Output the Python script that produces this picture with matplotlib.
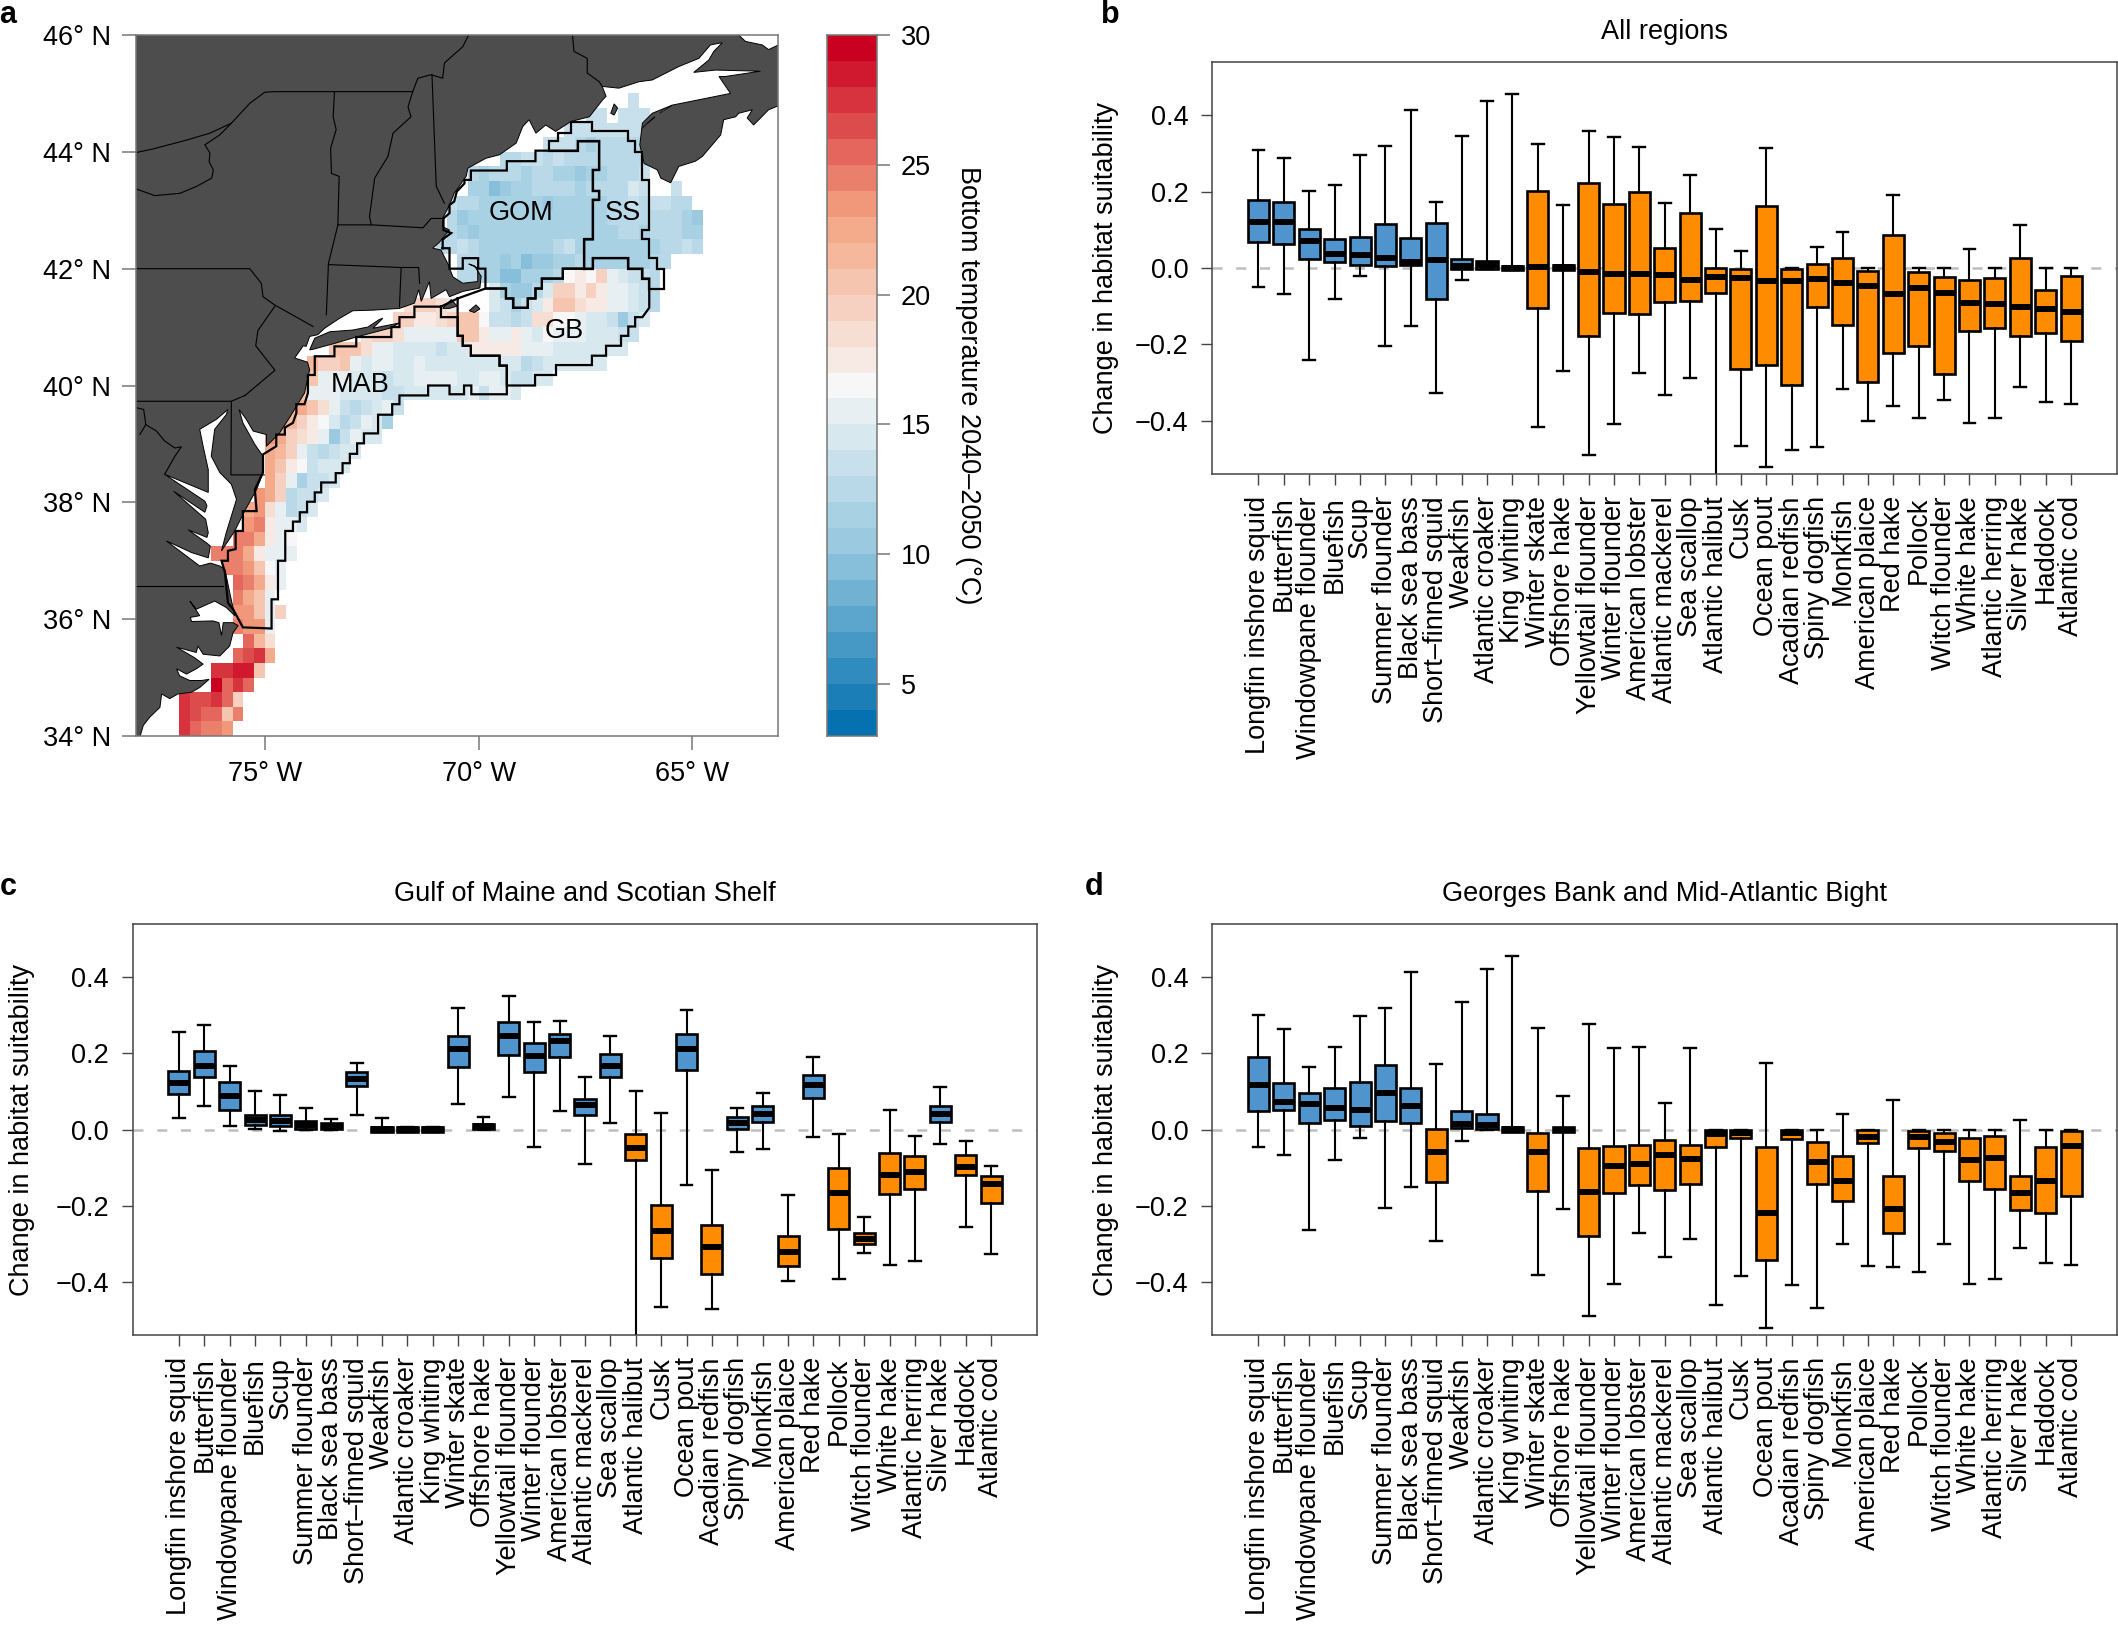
import numpy as np
import matplotlib
matplotlib.use("Agg")
import matplotlib.pyplot as plt
from matplotlib.colors import LinearSegmentedColormap, BoundaryNorm
from matplotlib.patches import Polygon

plt.rcParams['font.family'] = ['Liberation Sans', 'DejaVu Sans']
plt.rcParams['mathtext.default'] = 'regular'

W, H = 2118, 1625

species = ["Longfin inshore squid", "Butterfish", "Windowpane flounder", "Bluefish", "Scup",
           "Summer flounder", "Black sea bass", "Short–finned squid", "Weakfish", "Atlantic croaker",
           "King whiting", "Winter skate", "Offshore hake", "Yellowtail flounder", "Winter flounder",
           "American lobster", "Atlantic mackerel", "Sea scallop", "Atlantic halibut", "Cusk",
           "Ocean pout", "Acadian redfish", "Spiny dogfish", "Monkfish", "American plaice", "Red hake",
           "Pollock", "Witch flounder", "White hake", "Atlantic herring", "Silver hake", "Haddock",
           "Atlantic cod"]

# ---- panel b: All regions
b_hi = [.309,.289,.203,.217,.297,.319,.414,.174,.346,.439,.457,.325,.166,.360,.343,.318,.170,.245,.101,.044,.314,0,.056,.094,0,.191,0,0,.050,0,.112,0,0]
b_q3 = [.179,.174,.103,.075,.080,.115,.079,.118,.024,.018,.005,.201,.007,.222,.167,.199,.052,.145,0,-.002,.163,-.003,.010,.027,-.008,.087,-.010,-.023,-.032,-.026,.025,-.057,-.021]
b_med = [.121,.121,.071,.038,.033,.025,.017,.020,.005,.007,0,.003,.002,-.011,-.017,-.015,-.019,-.031,-.023,-.025,-.034,-.034,-.030,-.040,-.047,-.067,-.052,-.066,-.093,-.095,-.101,-.108,-.115]
b_q1 = [.069,.062,.023,.017,.007,.004,.008,-.080,-.003,-.003,-.005,-.106,-.005,-.178,-.119,-.120,-.090,-.087,-.065,-.265,-.254,-.308,-.103,-.150,-.300,-.223,-.205,-.278,-.164,-.157,-.178,-.171,-.192]
b_lo = [-.049,-.068,-.241,-.080,-.022,-.205,-.152,-.327,-.032,-.003,-.005,-.416,-.270,-.490,-.409,-.275,-.334,-.289,-.60,-.466,-.521,-.477,-.469,-.318,-.402,-.361,-.393,-.347,-.405,-.394,-.311,-.350,-.357]
b_col = "bbbbbbbbbbb" + "o" * 22

# ---- panel c: Gulf of Maine and Scotian Shelf
c_hi = [.257,.274,.167,.100,.091,.057,.028,.174,.030,.007,.006,.318,.034,.350,.283,.284,.138,.245,.101,.044,.314,-.107,.056,.095,-.171,.191,-.011,-.230,.050,-.017,.112,-.031,-.096]
c_q3 = [.155,.206,.126,.039,.039,.023,.018,.151,.007,.006,.006,.247,.015,.283,.227,.251,.081,.199,-.013,-.198,.252,-.252,.032,.062,-.279,.143,-.100,-.272,-.061,-.069,.062,-.067,-.122]
c_med = [.122,.167,.088,.025,.022,.013,.010,.133,.001,.001,.001,.211,.008,.247,.192,.233,.065,.167,-.049,-.266,.212,-.310,.017,.041,-.323,.118,-.167,-.288,-.120,-.112,.042,-.099,-.143]
c_q1 = [.094,.138,.050,.011,.008,.001,.002,.113,-.006,-.006,-.006,.165,.001,.196,.150,.191,.038,.138,-.080,-.337,.156,-.381,.002,.020,-.358,.083,-.261,-.302,-.169,-.156,.019,-.119,-.194]
c_lo = [.030,.062,.008,.001,-.004,-.001,0,.038,-.006,-.006,-.006,.066,-.001,.085,-.047,.049,-.091,.016,-.60,-.466,-.145,-.471,-.059,-.052,-.399,-.019,-.393,-.325,-.357,-.346,-.038,-.255,-.327]
c_col = "bbbbbbbbbbbbbbbbbb" + "oo" + "b" + "o" + "bb" + "o" + "b" + "oooo" + "b" + "oo"

# ---- panel d: Georges Bank and Mid-Atlantic Bight
d_hi = [.302,.265,.165,.217,.297,.319,.414,.173,.335,.423,.455,.268,.089,.276,.214,.217,.070,.214,0,0,.176,0,0,.041,0,.077,0,0,0,0,.025,0,0]
d_q3 = [.191,.121,.095,.108,.126,.170,.108,.001,.049,.040,.007,-.008,.006,-.048,-.043,-.040,-.027,-.042,0,0,-.045,0,-.034,-.070,0,-.121,-.004,-.010,-.022,-.017,-.123,-.046,-.004]
d_med = [.118,.073,.066,.057,.050,.096,.063,-.059,.015,.012,.002,-.060,0,-.165,-.096,-.091,-.068,-.077,-.012,-.010,-.219,-.010,-.086,-.136,-.019,-.209,-.020,-.033,-.081,-.075,-.168,-.136,-.043]
d_q1 = [.048,.052,.017,.024,.010,.023,.017,-.137,.003,.001,-.006,-.161,-.007,-.280,-.168,-.147,-.159,-.144,-.046,-.023,-.343,-.025,-.144,-.187,-.036,-.271,-.049,-.057,-.135,-.156,-.212,-.220,-.176]
d_lo = [-.045,-.068,-.264,-.080,-.022,-.205,-.152,-.292,-.031,-.002,-.006,-.382,-.208,-.490,-.405,-.273,-.334,-.289,-.461,-.386,-.521,-.409,-.469,-.302,-.359,-.361,-.375,-.300,-.405,-.394,-.311,-.350,-.357]
d_col = "bbbbbbb" + "o" + "bbb" + "o" * 22

box_blue = "#4F94CD"
box_orange = "#FF8C00"

# ---- panel a: bottom temperature (deg C bin) per 0.25 degree cell: (lat row, first lon col, values)
grid_lon0, grid_lat0, grid_step = -78.0, 34.0, 0.25
temp_rows = [
    (0, 4, [27,25,24,24,23]),
    (1, 4, [27,26,25,25,20,24]),
    (2, 4, [27,26,26,27,25,19]),
    (3, 7, [29,25,27,25]),
    (4, 7, [27,27,28,28,20]),
    (5, 9, [25,26,27,22]),
    (6, 10, [25,21,18]),
    (7, 9, [24,23,23,15]),
    (8, 9, [23,23,20,15,19]),
    (9, 9, [24,22,20,15]),
    (10, 9, [25,24,22,17,15]),
    (11, 8, [24,24,23,20,16,15]),
    (12, 7, [24,24,24,22,17,15,15,15]),
    (13, 9, [24,24,22,17,15,16]),
    (14, 10, [23,24,17,15,15,14]),
    (15, 10, [22,23,18,15,12,13,14]),
    (16, 11, [23,22,19,12,13,13,14]),
    (17, 12, [22,19,15,11,13,13,14]),
    (18, 12, [22,20,17,16,13,14,14,14]),
    (19, 12, [22,21,19,15,13,12,13,14,14]),
    (20, 12, [23,22,19,18,17,15,10,13,15,14,14]),
    (21, 13, [22,21,19,17,16,14,12,13,15,14,11]),
    (22, 14, [21,22,20,18,15,13,12,13,14,15,13]),
    (23, 14, [21,20,15,15,15,14,14,14,14,13,13,14,14,14,14,14,14,15,13,15,15,14]),
    (24, 15, [21,20,15,15,15,14,14,14,13,14,14,15,15,15,15,14,14,15,15,14,13,13,14,14]),
    (25, 16, [21,19,19,20,15,14,15,15,14,14,15,14,14,14,14,14,14,14,14,14,12,13,14,14,14,14,14,14]),
    (26, 18, [20,20,20,18,15,15,14,14,14,14,13,14,14,17,17,17,17,17,15,15,15,14,14,14,14,14,14,14]),
    (27, 21, [18,19,19,18,15,15,15,15,15,20,20,17,15,15,17,15,14,16,15,15,15,14,14,14,13,13]),
    (28, 24, [19,19,17,17,18,19,20,20,16,13,13,12,13,18,18,16,16,15,14,14,13,10,13,14]),
    (29, 25, [18,19,19,18,17]),
    (29, 33, [14,13,11,13,14,17,20,20,18,17,17,15,15,14,13,12]),
    (30, 33, [14,11,10,10,12,14,19,19,17,19,17,15,15,14,13,12]),
    (31, 30, [12,12,11,11,9,9,11,11,11,12,16,17,16,19,15,14,13,13,12]),
    (32, 30, [12,12,11,11,10,11,9,10,10,11,11,12,11,11,11,11,11,11,12,12]),
    (33, 28, [12,12,13,12,11,11,11,11,11,11,11,12,13,11,11,11,11,11,11,11,11,12,12,13,12]),
    (34, 29, [12,11,10,11,11,11,11,11,11,11,11,11,11,11,11,11,12,12,11,12,12,12,11,11]),
    (35, 29, [12,10,11,11,11,11,11,11,11,11,11,11,11,11,11,12,12,12,12,12,12,12,11,10]),
    (36, 29, [13,12,12,11,11,11,11,11,11,10,11,11,11,11,11,12,12,13,12,13,13,12,12]),
    (37, 31, [11,11,9,10,11,11,12,12,12,12,11,12,12,12,12,14,13]),
    (37, 50, [13]),
    (38, 31, [12,11,12,12,12,11,12,12,11,11,10,11,11,12,12,12,13]),
    (39, 34, [12,12,13,13,12,13,12,12,12,12,12,12,12,12]),
    (40, 38, [13,13,13,12,11,12,12,12,12,11]),
    (41, 40, [13,13,13,13,13,13,13,13]),
    (42, 42, [13,13]),
    (42, 45, [13,13,13]),
    (43, 46, [13]),
]
temp_levels = list(range(3, 31))
temp_ticks = [5, 10, 15, 20, 25, 30]
palette = ['#0571b0', '#92c5de', '#f7f7f7', '#f4a582', '#ca0020']

# Mainland outline in lon/lat, south to north along the coast
coast = [(-78.2,34.0),(-77.91,34.0),(-77.84,34.18),(-77.69,34.32),(-77.45,34.49),(-77.41,34.72),(-77.22,34.64),
 (-77.03,34.72),(-76.71,34.75),(-76.52,34.83),(-76.30,34.97),(-76.48,34.95),(-76.75,34.95),(-76.99,35.03),
 (-77.06,35.15),(-76.83,35.06),(-76.60,35.15),(-76.44,35.23),(-76.64,35.34),(-77.06,35.52),(-76.60,35.43),
 (-76.56,35.54),(-76.44,35.40),(-76.05,35.37),(-75.82,35.54),(-75.74,35.77),(-75.62,35.89),(-75.74,35.94),
 (-75.97,35.94),(-76.01,35.72),(-76.07,35.94),(-76.21,35.97),(-76.71,35.96),(-76.74,36.03),(-76.52,36.06),
 (-76.75,36.31),(-76.60,36.17),(-76.17,36.31),(-75.90,36.20),(-75.70,36.06),(-75.82,36.46),(-75.93,36.85),
 (-76.05,36.91),(-76.27,36.96),(-76.52,36.91),(-77.30,37.34),(-76.71,37.14),(-76.32,37.05),
 (-76.27,37.25),(-76.35,37.30),(-76.79,37.53),(-76.35,37.40),(-76.32,37.48),(-76.38,37.71),(-77.13,38.19),
 (-76.40,37.83),(-76.35,37.94),(-76.40,38.02),(-77.34,38.48),(-76.32,38.17),(-76.32,38.56),(-76.44,38.96),
 (-76.52,39.25),(-76.13,39.42),
 (-75.86,39.59),(-75.90,39.50),(-76.17,39.25),(-76.25,38.79),(-76.05,38.51),(-75.78,38.31),(-75.66,38.05),
 (-75.90,37.48),(-76.01,37.17),(-75.70,37.51),(-75.47,37.85),(-75.19,38.22),(-75.04,38.51),(-75.04,38.79),
 (-75.23,38.99),(-75.51,39.36),(-75.60,39.59),(-75.43,39.42),(-75.27,39.22),(-74.96,39.16),(-74.96,38.96),
 (-74.65,39.19),(-74.42,39.45),(-74.07,39.87),(-73.95,40.27),(-74.0,40.40),(-74.30,40.47),(-74.10,40.68),
 (-74.03,40.67),(-73.95,40.84),(-73.76,40.87),(-73.60,40.98),(-73.25,41.15),(-72.94,41.28),(-72.47,41.29),
 (-71.85,41.32),(-71.50,41.41),(-71.40,41.64),(-71.34,41.44),(-71.15,41.78),(-71.11,41.49),(-70.76,41.64),
 (-70.68,41.52),(-70.37,41.61),(-69.97,41.67),(-69.94,41.87),(-70.10,42.05),(-70.23,42.08),(-70.02,42.01),
 (-70.02,41.78),(-70.37,41.75),(-70.60,41.86),(-70.68,42.01),(-70.68,42.03),(-70.88,42.32),(-71.07,42.35),
 (-70.92,42.45),(-70.68,42.66),(-70.84,42.72),(-70.84,42.86),(-70.68,43.09),(-70.57,43.29),(-70.29,43.58),
 (-70.25,43.72),(-69.83,43.89),(-69.51,43.95),(-69.12,44.15),(-68.97,44.43),(-68.82,44.55),(-68.66,44.32),
 (-68.43,44.46),(-68.20,44.35),(-67.84,44.52),(-67.41,44.60),(-67.10,44.89),(-67.02,44.95),(-67.11,45.12),
 (-66.72,45.09),(-66.25,45.20),(-65.94,45.23),(-65.32,45.46),(-64.85,45.60),(-64.58,45.83),(-64.30,45.87),
 (-64.50,45.72),(-64.62,45.57),(-64.97,45.36),(-64.46,45.40),(-63.41,45.38),(-64.23,45.29),(-64.38,45.29),
 (-64.11,45.0),(-65.47,44.80),(-65.94,44.66),(-66.17,44.49),(-66.23,44.12),(-66.13,43.80),(-65.82,43.69),
 (-65.74,43.55),(-65.51,43.47),(-65.32,43.75),(-64.93,43.84),(-64.77,43.92),(-64.34,44.29),(-64.27,44.55),
 (-63.99,44.60),(-63.92,44.66),(-63.60,44.72),(-63.72,44.58),(-63.57,44.46),(-63.22,44.72),(-63.02,44.78),
 (-62.8,44.80),(-62.8,45.82),(-63.02,45.82),(-63.22,45.75),(-63.37,45.83),(-63.76,45.89),(-63.92,46.0),
 (-63.95,46.2),(-78.2,46.2)]
long_island = [(-73.95,40.61),(-73.83,40.81),(-73.48,40.92),(-72.94,40.95),(-72.59,41.0),(-72.32,41.13),(-72.24,41.15),
 (-72.47,40.98),(-71.85,41.07),(-72.08,40.98),(-72.86,40.83),(-73.37,40.72),(-73.87,40.62)]
nantucket = [(-70.22,41.28),(-70.06,41.38),(-69.97,41.31),(-70.10,41.25)]
marthas_vineyard = [(-70.84,41.32),(-70.64,41.47),(-70.50,41.36),(-70.68,41.32)]
grand_manan = [(-66.83,44.82),(-66.75,44.75),(-66.83,44.63),(-66.91,44.66)]
islands = [long_island, nantucket, marthas_vineyard, grand_manan]
inlets = [[(-66.18,44.40),(-65.90,44.58),(-65.88,44.60),(-66.12,44.46)],
          [(-65.76,44.66),(-65.50,44.78),(-65.48,44.80),(-65.72,44.70)]]

borders = [
 [(-77.99,43.36),(-77.57,43.25),(-76.98,43.29),(-76.59,43.41),(-76.24,43.55),(-76.2,43.69),(-76.30,43.83),(-76.28,43.98),(-76.40,44.12),(-76.05,44.29),(-75.78,44.49),(-75.35,44.83),(-75.0,45.02),(-74.80,45.03),(-71.54,45.03),(-71.42,45.26),(-71.11,45.32),(-70.84,45.26),(-70.80,45.52),(-70.37,45.80),(-70.25,45.975),(-70.2,46.05)],
 [(-77.99,43.99),(-77.61,44.05),(-76.83,44.20),(-76.28,44.32),(-75.78,44.49)],
 [(-67.81,46.05),(-67.77,45.72),(-67.46,45.60),(-67.46,45.35),(-67.18,45.20),(-67.11,45.12)],
 [(-73.37,45.02),(-73.40,44.60),(-73.33,44.38),(-73.46,44.06),(-73.44,43.63),(-73.26,43.58),(-73.29,42.75),(-73.51,42.09),(-73.56,41.21)],
 [(-71.54,45.03),(-71.65,44.77),(-71.58,44.60),(-72.0,44.32),(-72.12,43.92),(-72.43,43.55),(-72.55,42.89),(-72.51,42.75)],
 [(-71.09,45.32),(-70.99,43.41),(-70.80,43.12)],
 [(-73.29,42.75),(-72.51,42.75),(-71.30,42.70),(-71.11,42.86),(-70.80,42.86)],
 [(-73.51,42.07),(-71.81,42.02),(-71.40,42.02),(-71.38,41.75)],
 [(-71.81,42.02),(-71.85,41.35)],
 [(-77.99,42.0),(-75.35,42.0),(-75.08,41.75),(-75.04,41.52),(-74.77,41.38),(-73.87,41.01)],
 [(-74.76,41.36),(-75.16,40.94),(-75.21,40.68),(-74.76,40.26),(-75.46,39.83)],
 [(-78.1,39.73),(-75.78,39.73),(-75.46,39.83)],
 [(-75.78,39.73),(-75.79,38.47),(-75.01,38.47)],
 [(-78.1,36.56),(-75.98,36.56)],
 [(-78.0,39.62),(-77.83,39.59),(-77.78,39.33),(-77.92,39.16)],
 [(-77.78,39.33),(-77.53,39.22),(-77.34,39.05),(-77.10,38.93),(-76.95,38.95),(-77.10,38.79),(-77.34,38.48)],
]

gom_outline = [(-70.84,42.35),(-70.68,42.35),(-70.68,42.0),(-70.37,42.0),(-70.37,42.18),(-70.01,42.18),(-70.01,42.0),
 (-69.84,42.0),(-69.84,41.66),(-69.36,41.66),(-69.36,41.49),(-69.19,41.49),(-69.19,41.33),(-68.85,41.33),(-68.85,41.49),
 (-68.67,41.49),(-68.67,41.66),(-68.52,41.66),(-68.52,41.83),(-68.03,41.83),(-68.03,42.0),(-67.53,42.0),(-67.53,42.50),
 (-67.33,42.50),(-67.33,43.18),(-67.18,43.18),(-67.18,43.33),(-67.33,43.33),(-67.33,43.69),(-67.18,43.69),(-67.18,44.18),
 (-67.68,44.18),(-67.68,44.02),(-68.67,44.02),(-68.67,43.84),(-69.34,43.84),(-69.34,43.68),(-70.18,43.68),(-70.18,43.52),
 (-70.33,43.52),(-70.33,43.46),(-70.51,43.32),(-70.57,43.15),(-70.68,43.09),(-70.68,42.95),(-70.82,42.86),(-70.82,42.66),
 (-70.64,42.61),(-70.84,42.50),(-70.84,42.35)]
ss_outline = [(-67.53,42.0),(-67.53,42.50),(-67.33,42.50),(-67.33,43.18),(-67.18,43.18),(-67.18,43.33),(-67.33,43.33),
 (-67.33,43.69),(-67.18,43.69),(-67.18,44.18),(-67.68,44.18),(-67.68,44.02),(-68.35,44.02),(-68.35,44.18),(-68.15,44.18),
 (-68.15,44.32),(-67.84,44.32),(-67.84,44.51),(-67.35,44.51),(-67.35,44.35),(-66.50,44.35),(-66.50,44.18),(-66.34,44.18),
 (-66.34,44.0),(-66.17,44.0),(-66.17,43.52),(-66.01,43.52),(-66.01,42.66),(-66.17,42.66),(-66.17,42.50),(-66.01,42.50),
 (-66.01,42.18),(-65.83,42.18),(-65.83,42.0),(-65.66,42.0),(-65.66,41.66),(-66.01,41.66),(-66.01,41.83),(-66.17,41.83),
 (-66.17,42.0),(-66.50,42.0),(-66.50,42.18),(-67.33,42.18),(-67.33,42.0),(-67.53,42.0)]
gb_outline = [(-70.49,41.49),(-70.49,40.85),(-70.37,40.85),(-70.37,40.68),(-70.18,40.68),(-70.18,40.51),(-69.51,40.51),
 (-69.51,40.34),(-69.34,40.34),(-69.34,40.0),(-68.68,40.0),(-68.68,40.18),(-68.19,40.18),(-68.19,40.35),(-67.35,40.35),
 (-67.35,40.51),(-67.02,40.51),(-67.02,40.68),(-66.67,40.68),(-66.67,40.85),(-66.50,40.85),(-66.50,41.01),(-66.34,41.01),
 (-66.34,41.17),(-66.17,41.17),(-66.01,41.33),(-66.01,41.83),(-66.17,41.83),(-66.17,42.0),(-66.50,42.0),(-66.50,42.18),
 (-67.33,42.18),(-67.33,42.0),(-68.03,42.0),(-68.03,41.83),(-68.52,41.83),(-68.52,41.66),(-68.67,41.66),(-68.67,41.49),
 (-68.85,41.49),(-68.85,41.33),(-69.19,41.33),(-69.19,41.49),(-69.36,41.49),(-69.36,41.66),(-69.84,41.66),(-70.49,41.49)]
mab_outline = [(-70.49,41.49),(-70.88,41.35),(-71.50,41.35),(-71.50,41.17),(-71.85,41.17),(-71.85,41.0),(-72.04,41.0),
 (-72.04,40.83),(-72.86,40.83),(-72.86,40.67),(-73.37,40.67),(-73.37,40.50),(-73.83,40.50),(-73.83,40.18),(-73.99,40.18),
 (-73.99,39.87),(-74.07,39.68),(-74.26,39.68),(-74.26,39.53),(-74.34,39.36),(-74.53,39.28),(-74.53,39.16),(-74.73,39.16),
 (-74.73,38.96),(-75.04,38.82),(-75.04,38.51),(-75.23,38.22),(-75.19,37.85),(-75.51,37.85),(-75.51,37.51),(-75.68,37.51),
 (-75.68,37.20),(-75.86,37.17),(-75.86,37.0),(-76.01,37.0),(-75.93,36.80),(-75.86,36.28),(-75.74,36.17),(-75.51,35.86),
 (-74.84,35.84),(-74.84,36.34),(-74.69,36.34),(-74.69,37.0),(-74.52,37.0),(-74.52,37.51),(-74.34,37.51),(-74.34,37.67),
 (-74.18,37.67),(-74.18,37.83),(-74.01,37.83),(-74.01,38.01),(-73.83,38.01),(-73.83,38.17),(-73.68,38.17),(-73.68,38.34),
 (-73.34,38.34),(-73.34,38.50),(-73.18,38.50),(-73.18,38.67),(-73.01,38.67),(-73.01,38.83),(-72.84,38.83),(-72.84,39.01),
 (-72.68,39.01),(-72.68,39.18),(-72.35,39.18),(-72.35,39.50),(-72.02,39.50),(-72.02,39.68),(-71.85,39.68),(-71.85,39.83),
 (-71.18,39.83),(-71.18,40.0),(-70.68,40.0),(-70.68,39.85),(-70.34,39.85),(-70.34,40.0),(-70.17,40.0),(-70.17,39.85),
 (-69.34,39.85),(-69.34,40.34),(-69.51,40.34),(-69.51,40.51),(-70.18,40.51),(-70.18,40.68),(-70.37,40.68),(-70.37,40.85),
 (-70.49,40.85),(-70.49,41.17),(-70.88,41.17),(-70.88,41.35)]
region_outlines = [gom_outline, ss_outline, gb_outline, mab_outline]
region_labels = [("GOM", -69.01, 42.96), ("SS", -66.63, 42.96), ("GB", -68.0, 40.93), ("MAB", -72.76, 40.0)]

lon_ticks = [-75, -70, -65]
lat_ticks = [34, 36, 38, 40, 42, 44, 46]

FS = 19.5
fig = plt.figure(figsize=(W / 100, H / 100), dpi=100, facecolor='white')


def px_axes(x0, y0, x1, y1):
    return fig.add_axes([x0 / W, 1 - y1 / H, (x1 - x0) / W, (y1 - y0) / H])


def style_frame(ax, color, lw=1.1):
    for s in ax.spines.values():
        s.set_color(color)
        s.set_linewidth(lw)


# ------------ map
ax = px_axes(136.4, 35, 778, 736)
temp = np.full((48, 60), np.nan)
for j, i0, vals in temp_rows:
    temp[j, i0:i0 + len(vals)] = np.array(vals) + 0.5
cmap = LinearSegmentedColormap.from_list('bt', palette, N=len(temp_levels) - 1)
norm = BoundaryNorm(temp_levels, cmap.N)
lon_edges = grid_lon0 + grid_step * np.arange(61)
lat_edges = grid_lat0 + grid_step * np.arange(49)
ax.pcolormesh(lon_edges, lat_edges, np.ma.masked_invalid(temp), cmap=cmap, norm=norm, zorder=1)
ax.add_patch(Polygon(coast, closed=True, fc='#4D4D4D', ec='black', lw=0.7, zorder=2))
for isl in islands:
    ax.add_patch(Polygon(isl, closed=True, fc='#4D4D4D', ec='black', lw=0.7, zorder=2))
for w in inlets:
    ax.add_patch(Polygon(w, closed=True, fc='white', ec='black', lw=0.5, zorder=2.2))
for line in borders:
    xs, ys = zip(*line)
    ax.plot(xs, ys, color='black', lw=0.8, zorder=2.5)
for out in region_outlines:
    xs, ys = zip(*out)
    ax.plot(xs, ys, color='black', lw=1.6, zorder=3, solid_joinstyle='miter')
for name, x, y in region_labels:
    ax.text(x, y, name, ha='center', va='center', fontsize=FS, color='black', zorder=4)
ax.set_xlim(-78, -63)
ax.set_ylim(34, 46)
ax.set_xticks(lon_ticks)
ax.set_xticklabels([f"{abs(v)}° W" for v in lon_ticks], fontsize=FS)
ax.set_yticks(lat_ticks)
ax.set_yticklabels([f"{v}° N" for v in lat_ticks], fontsize=FS)
ax.tick_params(axis='both', length=10, width=1.1, color='#777777', pad=8)
style_frame(ax, '#777777')

# ------------ colour bar
cax = px_axes(827, 35, 877, 736)
cax.pcolormesh([0, 1], temp_levels, np.array(temp_levels[:-1])[:, None] + 0.5, cmap=cmap, norm=norm)
cax.set_xticks([])
cax.yaxis.tick_right()
cax.set_yticks(temp_ticks)
cax.set_yticklabels([str(v) for v in temp_ticks], fontsize=FS)
cax.tick_params(axis='y', length=9, width=1.1, color='#777777', pad=8)
style_frame(cax, '#777777')
fig.text(968 / W, 1 - 385 / H, "Bottom temperature 2040–2050 (°C)", rotation=270, ha='center', va='center', fontsize=FS)


# ------------ box panels
def box_panel(rect, title, hi, q3, med, q1, lo, col, ylabel_x):
    a = px_axes(*rect)
    pos = np.arange(1, len(species) + 1)
    a.axhline(0, color='#BEBEBE', lw=1.8, dashes=(4, 5.5), zorder=1)
    stats = [dict(med=m, q1=l, q3=u, whislo=wl, whishi=wh, fliers=[])
             for m, l, u, wl, wh in zip(med, q1, q3, lo, hi)]
    art = a.bxp(stats, positions=pos, widths=0.83, patch_artist=True, showfliers=False, capwidths=0.47,
                boxprops=dict(linewidth=1.9, edgecolor='black'),
                medianprops=dict(color='black', linewidth=4.3, solid_capstyle='butt'),
                whiskerprops=dict(color='black', linewidth=1.5, linestyle='-'),
                capprops=dict(color='black', linewidth=1.7), zorder=2)
    for patch, c in zip(art['boxes'], col):
        patch.set_facecolor(box_blue if c == 'b' else box_orange)
    a.set_xlim(-0.83, 34.81)
    a.set_ylim(-0.54, 0.54)
    a.set_xticks(pos)
    a.set_xticklabels(species, rotation=90, ha='center', va='top', fontsize=FS)
    a.set_yticks([-0.4, -0.2, 0.0, 0.2, 0.4])
    a.set_yticklabels(["−0.4", "−0.2", "0.0", "0.2", "0.4"], fontsize=FS)
    a.tick_params(axis='x', length=8, width=1.0, color='#444444', pad=8)
    a.tick_params(axis='y', length=8, width=1.0, color='#444444', pad=9)
    style_frame(a, '#444444')
    cx = (rect[0] + rect[2]) / 2 / W
    fig.text(cx, 1 - (rect[1] - 30) / H, title, ha='center', va='center', fontsize=FS)
    fig.text(ylabel_x / W, 1 - (rect[1] + rect[3]) / 2 / H, "Change in habitat suitability", rotation=90,
             ha='center', va='center', fontsize=FS)


box_panel((1212, 62, 2117, 474), "All regions", b_hi, b_q3, b_med, b_q1, b_lo, b_col, 1106)
box_panel((132.5, 924, 1037, 1335), "Gulf of Maine and Scotian Shelf", c_hi, c_q3, c_med, c_q1, c_lo, c_col, 22)
box_panel((1212, 924, 2117, 1335), "Georges Bank and Mid-Atlantic Bight", d_hi, d_q3, d_med, d_q1, d_lo, d_col, 1106)

for letter, x, y in [('a', 8, 15), ('b', 1110, 15), ('c', 8, 887), ('d', 1094, 887)]:
    fig.text(x / W, 1 - y / H, letter, ha='center', va='center', fontsize=22, fontweight='bold')

fig.savefig('out.png', dpi=100, facecolor='white')
